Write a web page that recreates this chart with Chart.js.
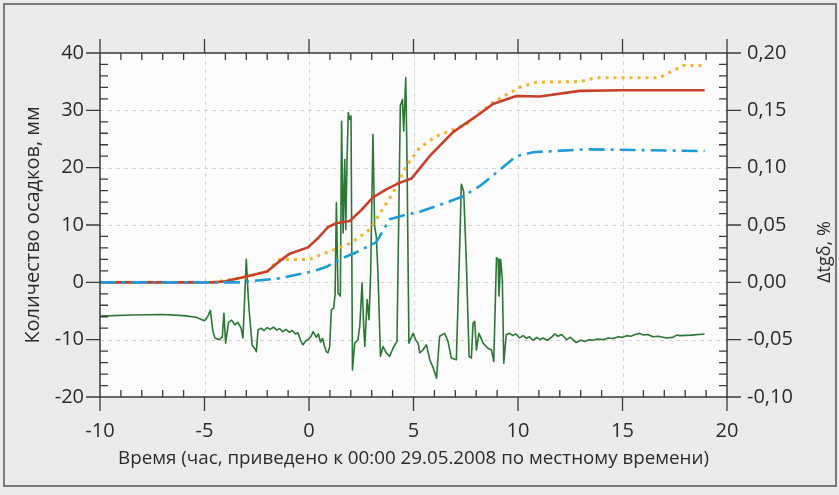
<!DOCTYPE html>
<html lang="ru">
<head>
    <meta charset="UTF-8">
    <title>Количество осадков и Δtgδ</title>
    <style>
        body { margin: 0; padding: 0; background: #e9ecea; }
        canvas { display: block; }
    </style>
</head>
<body>
    <canvas id="chart" width="839" height="495"></canvas>

    <script src="https://cdn.jsdelivr.net/npm/chart.js"></script>
    <script>
        // red solid: precipitation, mm
        const redT  = [-10, -4.6, -4.0, -3.0, -2.0, -1.4, -0.92, -0.05, 0.4, 0.9, 1.3, 1.95, 2.5, 3.06, 3.7, 4.3, 4.9, 5.77, 6.89, 8.17, 8.8, 9.92, 11.04, 12.95, 14.9, 18.93];
        const redMm = [0, 0, 0.2, 1.0, 1.9, 3.7, 5.0, 6.1, 7.6, 9.6, 10.3, 10.7, 12.6, 14.8, 16.2, 17.3, 18.1, 22.0, 26.2, 29.4, 31.1, 32.5, 32.4, 33.4, 33.5, 33.5];

        // orange dotted: precipitation, mm
        const orangeT  = [-10, -4.6, -3.0, -2.0, -1.5, -1.4, 0.0, 1.0, 2.03, 2.9, 3.22, 4.02, 4.66, 5.3, 6.1, 6.73, 7.53, 8.8, 10.08, 10.88, 12.95, 13.75, 16.78, 17.4, 17.9, 18.93];
        const orangeMm = [0, 0, 0.9, 1.9, 3.8, 4.0, 4.0, 5.4, 6.9, 9.2, 11.0, 15.6, 20.3, 23.5, 25.5, 26.4, 27.6, 31.4, 34.0, 34.9, 35.0, 35.7, 35.7, 36.9, 37.8, 37.8];

        // blue dash-dot: precipitation, mm
        const blueT  = [-10, -3.3, -1.4, 0.19, 0.83, 1.47, 2.3, 3.22, 3.86, 4.66, 5.3, 6.57, 7.37, 8.17, 8.49, 9.92, 10.72, 13.27, 18.93];
        const blueMm = [0, 0, 0.7, 1.9, 2.7, 4.0, 5.3, 7.0, 11.0, 11.8, 12.3, 13.9, 15.0, 16.8, 17.7, 22.0, 22.7, 23.2, 22.9];

        // green: delta tg(delta), %
        const greenT = [-10, -8.5, -7, -6, -5.4, -5.0, -4.85, -4.72, -4.6, -4.5, -4.3, -4.15, -4.07, -3.99, -3.85, -3.7, -3.55, -3.4, -3.25, -3.16,
            -3.0, -2.9, -2.84, -2.72, -2.6, -2.52, -2.44, -2.3, -2.15, -2.0, -1.85, -1.7, -1.55, -1.4, -1.25, -1.1, -0.95, -0.8, -0.65, -0.53,
            -0.4, -0.29, -0.15, -0.05, 0.1, 0.2, 0.35, 0.45, 0.55, 0.65, 0.75, 0.83, 0.91, 0.99,
            1.07, 1.18, 1.25, 1.31, 1.39, 1.5, 1.56, 1.63, 1.71, 1.76, 1.82, 1.88, 1.95, 2.01,
            2.08, 2.19, 2.34, 2.43, 2.54, 2.62, 2.67, 2.78, 2.87, 2.95, 3.06, 3.14, 3.22, 3.3, 3.42, 3.54, 3.7, 3.86, 4.02, 4.21,
            4.37, 4.47, 4.53, 4.63, 4.69, 4.78, 4.98, 5.1, 5.22, 5.3, 5.45, 5.62, 5.78, 5.95, 6.1, 6.25, 6.49, 6.65, 6.81, 7.05,
            7.21, 7.29, 7.4, 7.53, 7.66, 7.77, 7.85, 7.93, 8.01, 8.13, 8.33, 8.56, 8.73, 8.84, 8.97, 9.05, 9.09, 9.17, 9.25, 9.32,
            9.44, 9.6, 9.76, 9.9, 10.08, 10.25, 10.4, 10.55, 10.72, 10.9, 11.05, 11.2, 11.4, 11.6, 11.75, 11.91, 12.1, 12.32, 12.5, 12.79,
            13.0, 13.2, 13.4, 13.59, 13.8, 14.1, 14.3, 14.55, 14.8, 15.0, 15.19, 15.4, 15.6, 15.82, 16.0, 16.2, 16.46, 16.7, 17.1, 17.4,
            17.6, 17.74, 18.3, 18.93];
        const greenPct = [-0.0295, -0.0285, -0.028, -0.029, -0.0305, -0.0335, -0.030, -0.0245, -0.0425, -0.0485, -0.050, -0.048, -0.027, -0.053, -0.035, -0.033, -0.037, -0.035, -0.040, -0.0485,
            0.020, -0.015, -0.0295, -0.055, -0.0575, -0.0605, -0.0415, -0.040, -0.042, -0.0395, -0.041, -0.039, -0.0415, -0.0405, -0.043, -0.041, -0.0435, -0.042, -0.045, -0.044,
            -0.051, -0.0545, -0.051, -0.050, -0.047, -0.043, -0.048, -0.045, -0.052, -0.049, -0.056, -0.0605, -0.0615, -0.056,
            -0.024, -0.0225, -0.010, 0.0695, -0.0095, -0.012, 0.1405, 0.043, 0.107, 0.046, 0.107, 0.148, 0.142, 0.145,
            -0.0765, -0.053, -0.050, -0.0385, -0.0005, -0.040, -0.056, -0.015, -0.0325, 0.008, 0.129, 0.049, 0.040, 0.008, -0.0645, -0.056, -0.0615, -0.0645, -0.0575, -0.0515,
            0.154, 0.1595, 0.132, 0.1785, 0.107, -0.053, -0.0445, -0.050, -0.053, -0.0615, -0.059, -0.0545, -0.0675, -0.075, -0.0835, -0.047, -0.0445, -0.0515, -0.066, -0.0675,
            0.0315, 0.0855, 0.0795, 0.017, -0.0645, -0.066, -0.0355, -0.034, -0.059, -0.0445, -0.053, -0.0575, -0.059, -0.069, 0.0215, 0.020, -0.012, 0.020, 0.0025, -0.0705,
            -0.0455, -0.0445, -0.0465, -0.045, -0.0485, -0.0465, -0.049, -0.0475, -0.0505, -0.048, -0.050, -0.0485, -0.0505, -0.048, -0.045, -0.047, -0.0455, -0.050, -0.048, -0.0525,
            -0.0505, -0.0515, -0.050, -0.0505, -0.0495, -0.050, -0.0485, -0.049, -0.0475, -0.048, -0.0465, -0.047, -0.0455, -0.0445, -0.046, -0.0455, -0.0475, -0.047, -0.0485, -0.048,
            -0.046, -0.0465, -0.046, -0.045];

        const FONT = "'Open Sans', sans-serif";
        const INK = '#2b2b2b';

        function toPoints(xs, ys) {
            return xs.map((x, i) => ({ x: x, y: ys[i] }));
        }

        // frame, white plot area, dashed grid, axes with inner/outer ticks
        const framePlugin = {
            id: 'framePlugin',
            beforeDraw(chart) {
                const ctx = chart.ctx;
                const a = chart.chartArea;
                const sx = chart.scales.x, sy = chart.scales.y;
                ctx.save();
                ctx.fillStyle = '#e9ecea';
                ctx.fillRect(0, 0, chart.width, chart.height);
                ctx.strokeStyle = '#555';
                ctx.lineWidth = 1.5;
                ctx.strokeRect(4, 4, chart.width - 7, chart.height - 13);
                ctx.fillStyle = '#fbfcfb';
                ctx.fillRect(a.left, a.top, a.right - a.left, a.bottom - a.top);

                ctx.strokeStyle = '#d3d6d4';
                ctx.lineWidth = 1;
                ctx.setLineDash([4, 4]);
                for (let v = -5; v <= 15; v += 5) {
                    const px = Math.round(sx.getPixelForValue(v)) + 0.5;
                    ctx.beginPath(); ctx.moveTo(px, a.top); ctx.lineTo(px, a.bottom); ctx.stroke();
                }
                for (let v = -10; v <= 30; v += 10) {
                    const py = Math.round(sy.getPixelForValue(v)) + 0.5;
                    ctx.beginPath(); ctx.moveTo(a.left, py); ctx.lineTo(a.right, py); ctx.stroke();
                }
                ctx.restore();
            },
            afterDatasetsDraw(chart) {
                const ctx = chart.ctx;
                const a = chart.chartArea;
                const sx = chart.scales.x, sy = chart.scales.y;
                ctx.save();
                ctx.strokeStyle = '#3a3a3a';
                ctx.lineWidth = 1.5;
                ctx.strokeRect(a.left, a.top, a.right - a.left, a.bottom - a.top);
                ctx.lineWidth = 1.3;
                ctx.beginPath();
                for (let v = -10; v <= 20; v++) {
                    const px = sx.getPixelForValue(v);
                    if (v % 5 === 0) {
                        ctx.moveTo(px, a.bottom); ctx.lineTo(px, a.bottom + 14);
                        ctx.moveTo(px, a.top); ctx.lineTo(px, a.top - 14);
                    } else {
                        ctx.moveTo(px, a.bottom); ctx.lineTo(px, a.bottom - 7);
                        ctx.moveTo(px, a.top); ctx.lineTo(px, a.top + 7);
                    }
                }
                for (let v = -20; v <= 40; v += 2) {
                    const py = sy.getPixelForValue(v);
                    if (v % 10 === 0) {
                        ctx.moveTo(a.left, py); ctx.lineTo(a.left - 14, py);
                        ctx.moveTo(a.right, py); ctx.lineTo(a.right + 14, py);
                    } else {
                        ctx.moveTo(a.left, py); ctx.lineTo(a.left + 8, py);
                        ctx.moveTo(a.right, py); ctx.lineTo(a.right - 8, py);
                    }
                }
                ctx.stroke();
                ctx.restore();
            },
            afterDraw(chart) {
                // right axis title reads bottom-to-top
                const ctx = chart.ctx;
                ctx.save();
                ctx.translate(825, 252);
                ctx.rotate(-Math.PI / 2);
                ctx.font = '18px ' + FONT;
                ctx.fillStyle = INK;
                ctx.textAlign = 'center';
                ctx.textBaseline = 'middle';
                ctx.fillText('Δtgδ, %', 0, 0);
                ctx.restore();
            }
        };

        const ctx = document.getElementById('chart').getContext('2d');
        const chart = new Chart(ctx, {
            type: 'line',
            data: {
                datasets: [
                    {
                        label: 'blue',
                        data: toPoints(blueT, blueMm),
                        yAxisID: 'y',
                        borderColor: '#1f9bd7',
                        borderWidth: 2.6,
                        borderDash: [16, 6, 3, 6]
                    },
                    {
                        label: 'red',
                        data: toPoints(redT, redMm),
                        yAxisID: 'y',
                        borderColor: '#c8402b',
                        borderWidth: 2.6
                    },
                    {
                        label: 'orange',
                        data: toPoints(orangeT, orangeMm),
                        yAxisID: 'y',
                        borderColor: '#f1b42c',
                        borderWidth: 3,
                        borderDash: [3, 5]
                    },
                    {
                        label: 'green',
                        data: toPoints(greenT, greenPct),
                        yAxisID: 'y1',
                        borderColor: '#2c7636',
                        borderWidth: 1.6
                    }
                ]
            },
            options: {
                responsive: false,
                animation: false,
                events: [],
                layout: { padding: { top: 53, left: 0, right: 0, bottom: 0 } },
                elements: {
                    point: { radius: 0 },
                    line: { tension: 0, fill: false, borderJoinStyle: 'round' }
                },
                plugins: {
                    legend: { display: false },
                    tooltip: { enabled: false }
                },
                scales: {
                    x: {
                        type: 'linear',
                        min: -10,
                        max: 20,
                        grid: { display: false, drawTicks: false },
                        border: { display: false },
                        ticks: {
                            stepSize: 5,
                            padding: 22,
                            color: INK,
                            font: { family: FONT, size: 20 }
                        },
                        title: {
                            display: true,
                            text: 'Время (час, приведено к 00:00 29.05.2008 по местному времени)',
                            color: INK,
                            font: { family: FONT, size: 18.8 },
                            padding: { top: 0, bottom: 25 }
                        },
                        afterFit(scale) { scale.height = 98; }
                    },
                    y: {
                        position: 'left',
                        min: -20,
                        max: 40,
                        grid: { display: false, drawTicks: false },
                        border: { display: false },
                        ticks: {
                            stepSize: 10,
                            padding: 16,
                            color: INK,
                            font: { family: FONT, size: 20 }
                        },
                        title: {
                            display: true,
                            text: 'Количество осадков, мм',
                            color: INK,
                            font: { family: FONT, size: 20 },
                            padding: { top: 21, bottom: 0 }
                        },
                        afterFit(scale) { scale.width = 100; }
                    },
                    y1: {
                        position: 'right',
                        min: -0.1,
                        max: 0.2,
                        grid: { display: false, drawTicks: false },
                        border: { display: false },
                        ticks: {
                            stepSize: 0.05,
                            padding: 20,
                            color: INK,
                            font: { family: FONT, size: 20 },
                            callback: (v) => v.toFixed(2).replace('.', ',')
                        },
                        afterFit(scale) { scale.width = 112; }
                    }
                }
            },
            plugins: [framePlugin]
        });
    </script>
</body>
</html>
